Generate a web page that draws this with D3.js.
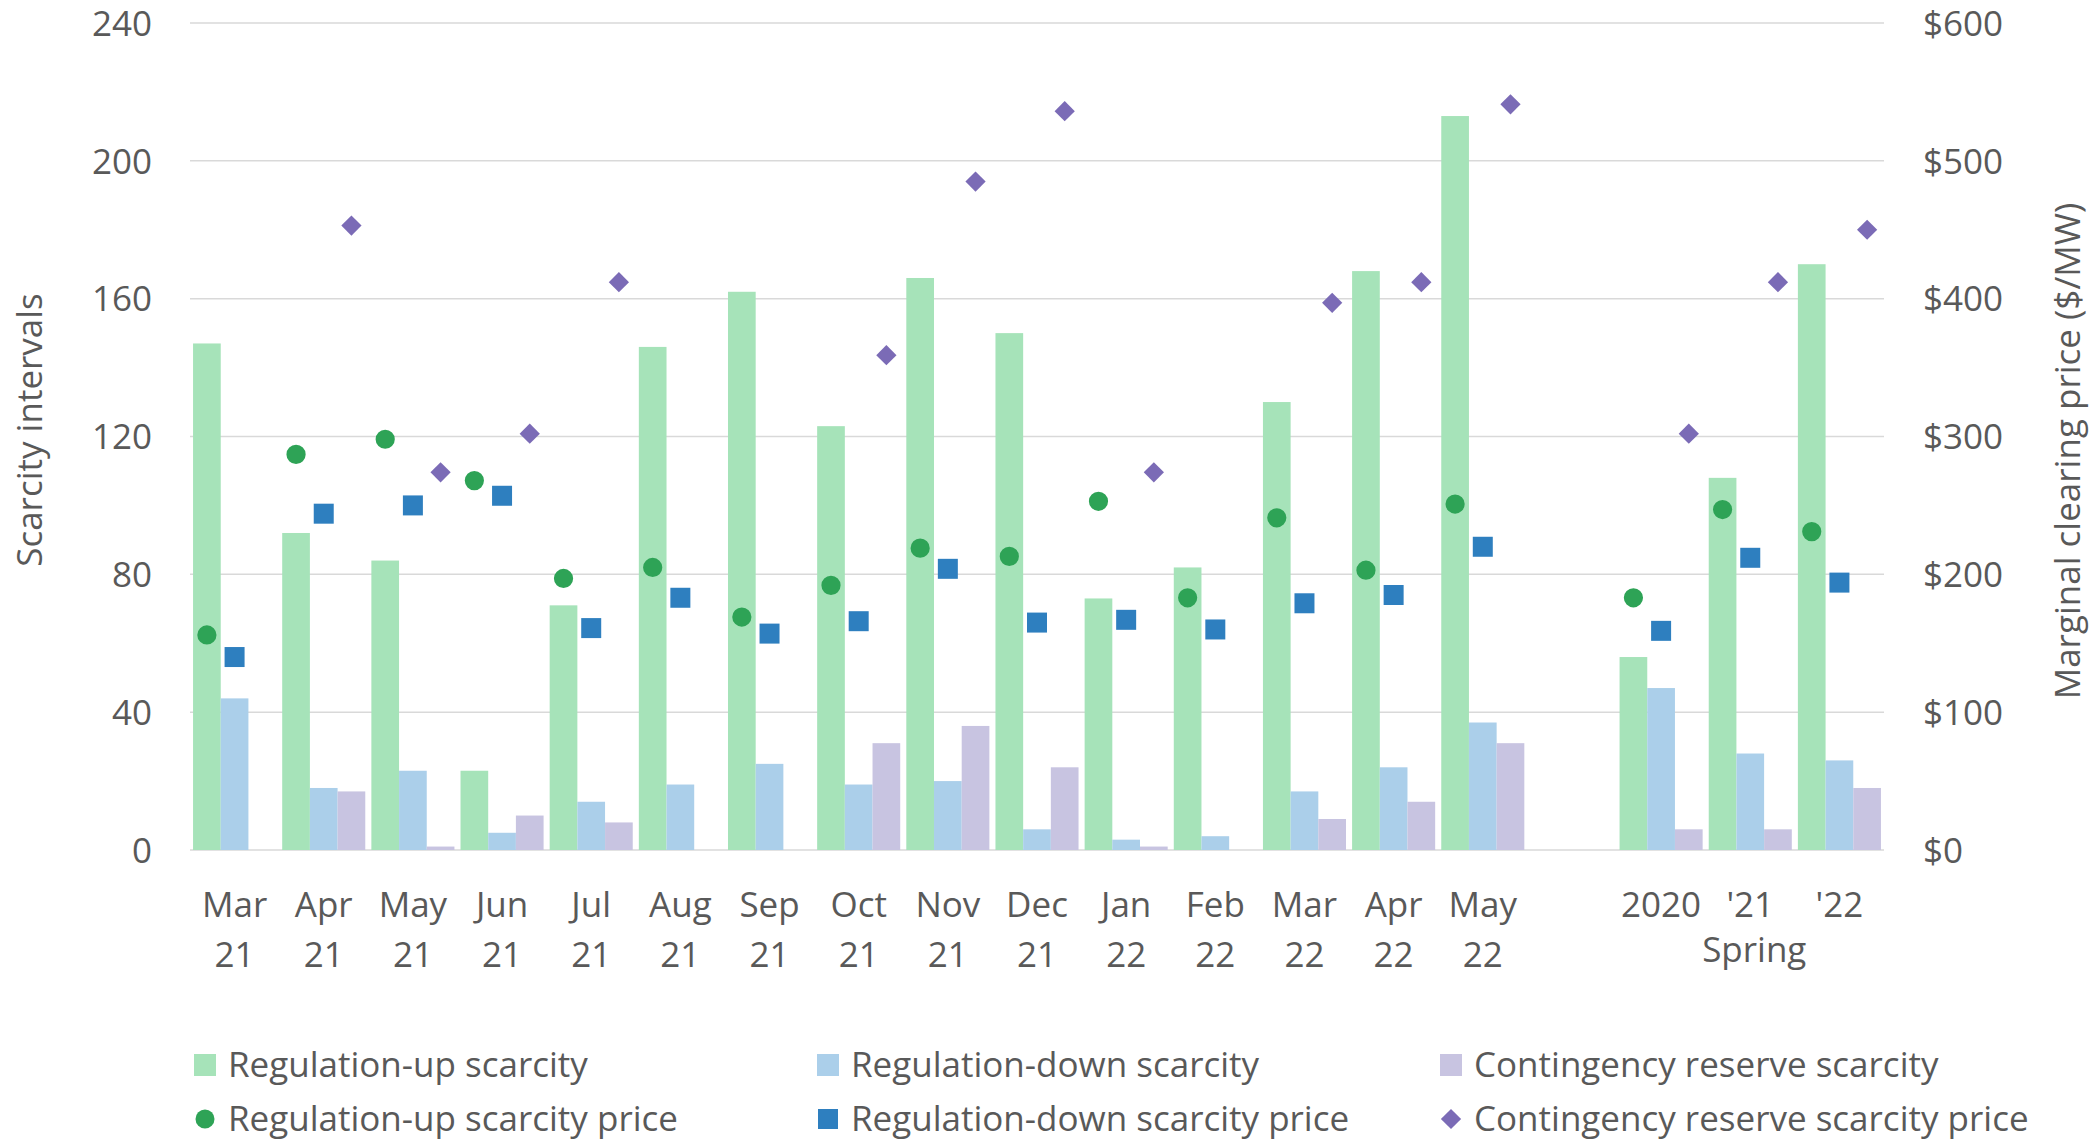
<!DOCTYPE html>
<html>
<head>
<meta charset="utf-8">
<script src="https://cdn.jsdelivr.net/npm/d3@7"></script>
<style>
body { margin: 0; background: #fff; }
text { font-family: "Open Sans", sans-serif; fill: #595959; }
</style>
</head>
<body>
<svg id="chart" width="2100" height="1141"></svg>
<script>
// category labels (two lines), one blank slot before the spring summary
var monthLabels = ["Mar", "Apr", "May", "Jun", "Jul", "Aug", "Sep", "Oct", "Nov", "Dec", "Jan", "Feb", "Mar", "Apr", "May", "", "2020", "'21", "'22"];
var yearLabels = ["21", "21", "21", "21", "21", "21", "21", "21", "21", "21", "22", "22", "22", "22", "22", "", "", "", ""];

var regUpScarcity = [147, 92, 84, 23, 71, 146, 162, 123, 166, 150, 73, 82, 130, 168, 213, null, 56, 108, 170];
var regDownScarcity = [44, 18, 23, 5, 14, 19, 25, 19, 20, 6, 3, 4, 17, 24, 37, null, 47, 28, 26];
var crScarcity = [0, 17, 1, 10, 8, 0, 0, 31, 36, 24, 1, 0, 9, 14, 31, null, 6, 6, 18];

var regUpPrice = [156, 287, 298, 268, 197, 205, 169, 192, 219, 213, 253, 183, 241, 203, 251, null, 183, 247, 231];
var regDownPrice = [140, 244, 250, 257, 161, 183, 157, 166, 204, 165, 167, 160, 179, 185, 220, null, 159, 212, 194];
var crPrice = [null, 453, 274, 302, 412, null, null, 359, 485, 536, 274, null, 397, 412, 541, null, 302, 412, 450];

var leftTicks = [0, 40, 80, 120, 160, 200, 240];
var rightTicks = [0, 100, 200, 300, 400, 500, 600];

var cGreen = "#a6e3b9", cBlue = "#abcfea", cPurple = "#c8c4e1";
var mGreen = "#2ea356", mBlue = "#2e7fbf", mPurple = "#7b6bb6";

var svg = d3.select("#chart");
var plotLeft = 190, plotRight = 1884, plotTop = 23, plotBottom = 850;

var idx = d3.range(monthLabels.length);
var x = d3.scaleBand().domain(idx).range([plotLeft, plotRight]);
var sub = d3.scaleBand().domain(["up", "down", "cr"]).range([0, x.step()]).paddingOuter(0.11);
var y = d3.scaleLinear().domain([0, 240]).range([plotBottom, plotTop]);
var y2 = d3.scaleLinear().domain([0, 600]).range([plotBottom, plotTop]);

// gridlines
svg.append("g").selectAll("line")
    .data(leftTicks)
    .enter().append("line")
    .attr("x1", plotLeft).attr("x2", plotRight)
    .attr("y1", function(d) { return y(d); })
    .attr("y2", function(d) { return y(d); })
    .attr("stroke", "#d9d9d9")
    .attr("stroke-width", 1.5);

// left axis
var yAxis = svg.append("g")
    .attr("transform", "translate(" + (plotLeft - 38) + ",0)")
    .call(d3.axisLeft(y).tickValues(leftTicks).tickSize(0).tickPadding(0));
yAxis.select(".domain").remove();
yAxis.selectAll("text").attr("font-size", 35).attr("dy", "0.35em");

// right axis
var yAxis2 = svg.append("g")
    .attr("transform", "translate(" + (plotRight + 39) + ",0)")
    .call(d3.axisRight(y2).tickValues(rightTicks).tickSize(0).tickPadding(0)
        .tickFormat(function(d) { return "$" + d; }));
yAxis2.select(".domain").remove();
yAxis2.selectAll("text").attr("font-size", 35).attr("dy", "0.35em");

// bars
var barSeries = [
    { key: "up", values: regUpScarcity, color: cGreen },
    { key: "down", values: regDownScarcity, color: cBlue },
    { key: "cr", values: crScarcity, color: cPurple }
];
barSeries.forEach(function(s) {
    svg.append("g").selectAll("rect")
        .data(idx.filter(function(i) { return s.values[i] > 0; }))
        .enter().append("rect")
        .attr("x", function(i) { return x(i) + sub(s.key); })
        .attr("width", sub.bandwidth())
        .attr("y", function(i) { return y(s.values[i]); })
        .attr("height", function(i) { return y(0) - y(s.values[i]); })
        .attr("fill", s.color);
});

// price markers
var pointSeries = [
    { key: "up", values: regUpPrice, color: mGreen, sym: d3.symbol(d3.symbolCircle, 290), rot: 0 },
    { key: "down", values: regDownPrice, color: mBlue, sym: d3.symbol(d3.symbolSquare, 400), rot: 0 },
    { key: "cr", values: crPrice, color: mPurple, sym: d3.symbol(d3.symbolSquare, 205), rot: 45 }
];
pointSeries.forEach(function(s) {
    svg.append("g").selectAll("path")
        .data(idx.filter(function(i) { return s.values[i] != null; }))
        .enter().append("path")
        .attr("d", s.sym)
        .attr("transform", function(i) {
            var cx = x(i) + sub(s.key) + sub.bandwidth() / 2;
            return "translate(" + cx + "," + y2(s.values[i]) + ") rotate(" + s.rot + ")";
        })
        .attr("fill", s.color);
});

// category labels
var xl = svg.append("g").attr("font-size", 35).attr("text-anchor", "middle");
xl.selectAll("text.m")
    .data(idx)
    .enter().append("text")
    .attr("class", "m")
    .attr("x", function(i) { return x(i) + x.bandwidth() / 2; })
    .attr("y", 917)
    .text(function(i) { return monthLabels[i]; });
xl.selectAll("text.yr")
    .data(idx)
    .enter().append("text")
    .attr("class", "yr")
    .attr("x", function(i) { return x(i) + x.bandwidth() / 2; })
    .attr("y", 967)
    .text(function(i) { return yearLabels[i]; });
xl.append("text")
    .attr("x", x(17) + x.bandwidth() / 2 + 4)
    .attr("y", 962)
    .text("Spring");

// axis titles
svg.append("text")
    .attr("transform", "translate(42,430) rotate(-90)")
    .attr("text-anchor", "middle")
    .attr("font-size", 35)
    .text("Scarcity intervals");
svg.append("text")
    .attr("transform", "translate(2080,451) rotate(-90)")
    .attr("text-anchor", "middle")
    .attr("font-size", 35)
    .text("Marginal clearing price ($/MW)");

// legend
var legendItems = [
    { label: "Regulation-up scarcity", color: cGreen, type: "bar", col: 0, row: 0 },
    { label: "Regulation-down scarcity", color: cBlue, type: "bar", col: 1, row: 0 },
    { label: "Contingency reserve scarcity", color: cPurple, type: "bar", col: 2, row: 0 },
    { label: "Regulation-up scarcity price", color: mGreen, type: "circle", col: 0, row: 1 },
    { label: "Regulation-down scarcity price", color: mBlue, type: "square", col: 1, row: 1 },
    { label: "Contingency reserve scarcity price", color: mPurple, type: "diamond", col: 2, row: 1 }
];
var colX = [194, 817, 1440];
var rowY = [1065, 1119];
var leg = svg.append("g");
legendItems.forEach(function(d) {
    var g = leg.append("g").attr("transform", "translate(" + colX[d.col] + "," + rowY[d.row] + ")");
    if (d.type == "bar") {
        g.append("rect").attr("x", 0).attr("y", -11).attr("width", 22).attr("height", 22).attr("fill", d.color);
    } else if (d.type == "circle") {
        g.append("circle").attr("cx", 11).attr("cy", 0).attr("r", 9.5).attr("fill", d.color);
    } else if (d.type == "square") {
        g.append("rect").attr("x", 1).attr("y", -10).attr("width", 20).attr("height", 20).attr("fill", d.color);
    } else {
        g.append("path").attr("d", d3.symbol(d3.symbolSquare, 205)).attr("transform", "translate(11,0) rotate(45)").attr("fill", d.color);
    }
    g.append("text")
        .attr("x", 34)
        .attr("y", 0)
        .attr("dy", "0.35em")
        .attr("font-size", 35)
        .text(d.label);
});
</script>
</body>
</html>
